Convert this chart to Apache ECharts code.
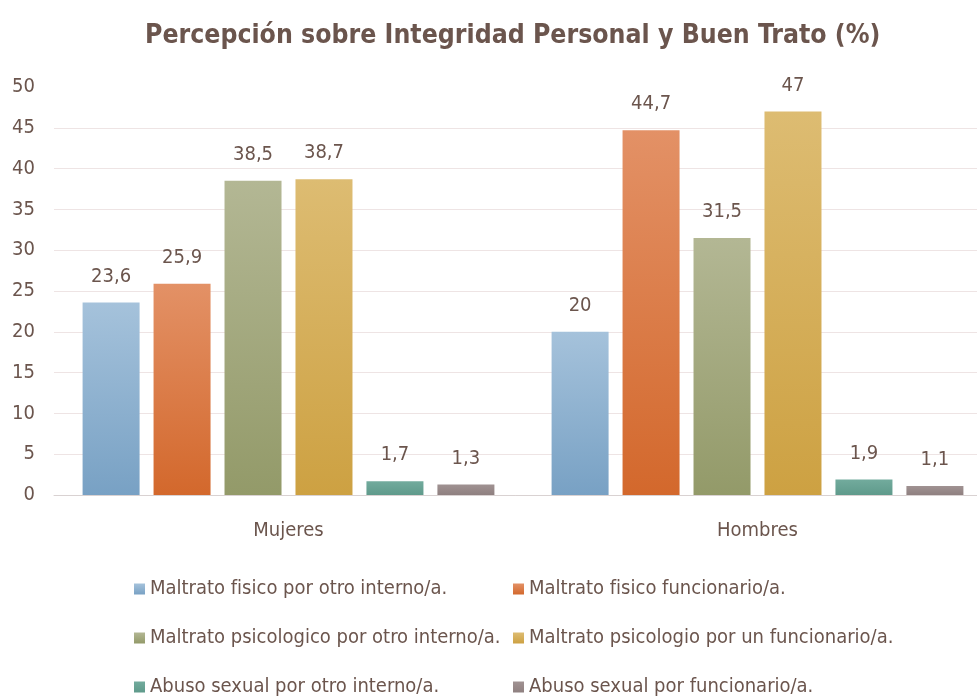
<!DOCTYPE html>
<html lang="es">
<head>
  <meta charset="UTF-8">
  <title>Percepción sobre Integridad Personal y Buen Trato</title>
  <script src="https://cdn.jsdelivr.net/npm/echarts@6/dist/echarts.min.js"></script>
  <style>
    html, body { margin: 0; padding: 0; background: #fff; }
    #main { width: 977px; height: 698px; }
  </style>
</head>
<body>
<div id="main"></div>
<script>
  // datos
  var categorias = ['Mujeres', 'Hombres'];
  var series_nombres = [
    'Maltrato fisico por otro interno/a.',
    'Maltrato fisico funcionario/a.',
    'Maltrato psicologico por otro interno/a.',
    'Maltrato psicologio por un funcionario/a.',
    'Abuso sexual por otro interno/a.',
    'Abuso sexual por funcionario/a.'
  ];
  var fisico_interno = [23.6, 20];
  var fisico_funcionario = [25.9, 44.7];
  var psico_interno = [38.5, 31.5];
  var psico_funcionario = [38.7, 47];
  var sexual_interno = [1.7, 1.9];
  var sexual_funcionario = [1.3, 1.1];
  var valores = [fisico_interno, fisico_funcionario, psico_interno, psico_funcionario, sexual_interno, sexual_funcionario];

  // colores (arriba, abajo)
  var colores = [
    ['#a5c2db', '#78a1c4'],
    ['#e39166', '#d3682c'],
    ['#b3b794', '#939a69'],
    ['#ddbc72', '#cda142'],
    ['#72ab9d', '#5f9a8b'],
    ['#a09292', '#8f8080']
  ];
  var textColor = '#6b554d';
  var fuente = '"DejaVu Sans Condensed", Roboto, sans-serif';

  var chartDom = document.getElementById('main');
  var myChart = echarts.init(chartDom);
  var option;

  var series = valores.map(function (v, i) {
    return {
      name: series_nombres[i],
      type: 'bar',
      data: v,
      barWidth: 57,
      barGap: '24.5%',
      itemStyle: {
        color: new echarts.graphic.LinearGradient(0, 0, 0, 1, [
          {offset: 0, color: colores[i][0]},
          {offset: 1, color: colores[i][1]}
        ])
      },
      label: {
        show: true,
        position: 'top',
        distance: 16,
        color: textColor,
        fontFamily: fuente,
        fontSize: 20,
        formatter: function (p) { return String(p.value).replace('.', ','); }
      }
    };
  });

  // una leyenda por elemento: dos columnas, tres filas
  var posLeyenda = [[134, 579], [513, 579], [134, 628], [513, 628], [134, 677], [513, 677]];
  var leyendas = series_nombres.map(function (n, i) {
    return {
      left: posLeyenda[i][0],
      top: posLeyenda[i][1],
      padding: 0,
      itemWidth: 11,
      itemHeight: 11,
      icon: 'rect',
      data: [n],
      textStyle: {color: textColor, fontFamily: fuente, fontSize: 20}
    };
  });

  option = {
    backgroundColor: '#fff',
    color: colores.map(function (c) { return c[0]; }),
    title: {
      text: 'Percepción sobre Integridad Personal y Buen Trato (%)',
      left: 140,
      top: 18,
      textStyle: {color: textColor, fontFamily: fuente, fontSize: 26.4, fontWeight: 'bold'}
    },
    legend: leyendas,
    grid: {
      left: 54,
      right: -15,
      top: 87,
      bottom: 203,
      outerBoundsMode: 'none'
    },
    xAxis: {
      type: 'category',
      data: categorias,
      axisLine: {lineStyle: {color: '#d9d2d2'}},
      axisTick: {show: false},
      axisLabel: {color: textColor, fontFamily: fuente, fontSize: 20, margin: 26}
    },
    yAxis: {
      type: 'value',
      min: 0,
      max: 50,
      interval: 5,
      axisLine: {show: false},
      axisTick: {show: false},
      axisLabel: {color: textColor, fontFamily: fuente, fontSize: 20, margin: 19},
      splitLine: {showMaxLine: false, lineStyle: {color: '#eee4e4'}}
    },
    series: series
  };

  option && myChart.setOption(option);
</script>
</body>
</html>
